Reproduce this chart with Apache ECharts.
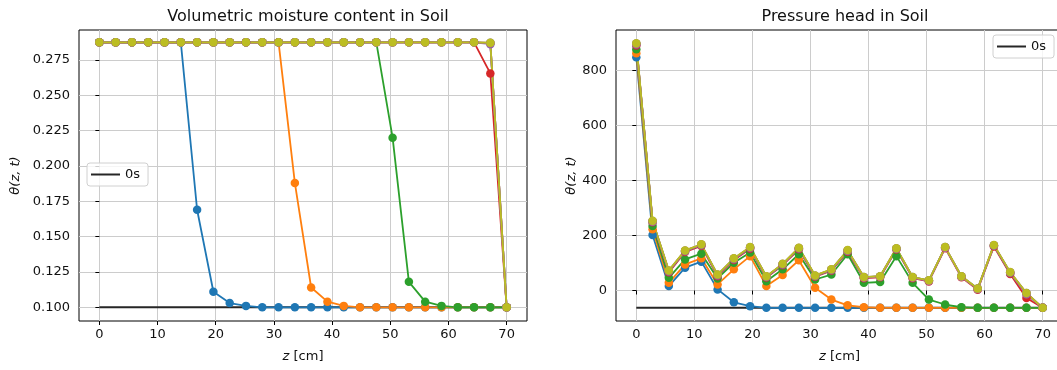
<!DOCTYPE html>
<html>
<head>
<meta charset="utf-8">
<script src="https://cdn.jsdelivr.net/npm/echarts@6/dist/echarts.min.js"></script>
<style>
  html, body { margin: 0; padding: 0; background: #fff; }
  #chart { width: 1057px; height: 370px; }
</style>
</head>
<body>
<div id="chart"></div>
<script>
// depth nodes (cm)
const zCm = [0, 2.8, 5.6, 8.4, 11.2, 14, 16.8, 19.6, 22.4, 25.2, 28, 30.8, 33.6, 36.4, 39.2, 42, 44.8, 47.6, 50.4, 53.2, 56, 58.8, 61.6, 64.4, 67.2, 70]

const xTicks = [0, 10, 20, 30, 40, 50, 60, 70]
const thetaTicks = [0.1, 0.125, 0.15, 0.175, 0.2, 0.225, 0.25, 0.275]
const headTicks = [0, 200, 400, 600, 800]

// volumetric moisture content, one array per time step
const theta0s = [0.1, 0.1, 0.1, 0.1, 0.1, 0.1, 0.1, 0.1, 0.1, 0.1, 0.1, 0.1, 0.1, 0.1, 0.1, 0.1, 0.1, 0.1, 0.1, 0.1, 0.1, 0.1, 0.1, 0.1, 0.1, 0.1]
const theta1 = [0.2875, 0.2875, 0.2875, 0.2875, 0.2875, 0.2875, 0.169, 0.111, 0.103, 0.101, 0.1, 0.1, 0.1, 0.1, 0.1, 0.1, 0.1, 0.1, 0.1, 0.1, 0.1, 0.1, 0.1, 0.1, 0.1, 0.1]
const theta2 = [0.2875, 0.2875, 0.2875, 0.2875, 0.2875, 0.2875, 0.2875, 0.2875, 0.2875, 0.2875, 0.2875, 0.2875, 0.188, 0.114, 0.104, 0.101, 0.1, 0.1, 0.1, 0.1, 0.1, 0.1, 0.1, 0.1, 0.1, 0.1]
const theta3 = [0.2875, 0.2875, 0.2875, 0.2875, 0.2875, 0.2875, 0.2875, 0.2875, 0.2875, 0.2875, 0.2875, 0.2875, 0.2875, 0.2875, 0.2875, 0.2875, 0.2875, 0.2875, 0.22, 0.118, 0.104, 0.101, 0.1, 0.1, 0.1, 0.1]
const theta4 = [0.2875, 0.2875, 0.2875, 0.2875, 0.2875, 0.2875, 0.2875, 0.2875, 0.2875, 0.2875, 0.2875, 0.2875, 0.2875, 0.2875, 0.2875, 0.2875, 0.2875, 0.2875, 0.2875, 0.2875, 0.2875, 0.2875, 0.2875, 0.2875, 0.2655, 0.1]
const theta5 = [0.2875, 0.2875, 0.2875, 0.2875, 0.2875, 0.2875, 0.2875, 0.2875, 0.2875, 0.2875, 0.2875, 0.2875, 0.2875, 0.2875, 0.2875, 0.2875, 0.2875, 0.2875, 0.2875, 0.2875, 0.2875, 0.2875, 0.2875, 0.2875, 0.2862, 0.1]
const theta6 = [0.2875, 0.2875, 0.2875, 0.2875, 0.2875, 0.2875, 0.2875, 0.2875, 0.2875, 0.2875, 0.2875, 0.2875, 0.2875, 0.2875, 0.2875, 0.2875, 0.2875, 0.2875, 0.2875, 0.2875, 0.2875, 0.2875, 0.2875, 0.2875, 0.2868, 0.1]
const theta7 = [0.2875, 0.2875, 0.2875, 0.2875, 0.2875, 0.2875, 0.2875, 0.2875, 0.2875, 0.2875, 0.2875, 0.2875, 0.2875, 0.2875, 0.2875, 0.2875, 0.2875, 0.2875, 0.2875, 0.2875, 0.2875, 0.2875, 0.2875, 0.2875, 0.2870, 0.1]
const theta8 = [0.2875, 0.2875, 0.2875, 0.2875, 0.2875, 0.2875, 0.2875, 0.2875, 0.2875, 0.2875, 0.2875, 0.2875, 0.2875, 0.2875, 0.2875, 0.2875, 0.2875, 0.2875, 0.2875, 0.2875, 0.2875, 0.2875, 0.2875, 0.2875, 0.2871, 0.1]
const theta9 = [0.2875, 0.2875, 0.2875, 0.2875, 0.2875, 0.2875, 0.2875, 0.2875, 0.2875, 0.2875, 0.2875, 0.2875, 0.2875, 0.2875, 0.2875, 0.2875, 0.2875, 0.2875, 0.2875, 0.2875, 0.2875, 0.2875, 0.2875, 0.2875, 0.2872, 0.1]

// pressure head, one array per time step
const head0s = [-63, -63, -63, -63, -63, -63, -63, -63, -63, -63, -63, -63, -63, -63, -63, -63, -63, -63, -63, -63, -63, -63, -63, -63, -63, -63]
const head1 = [849, 202, 16, 83, 105, 4, -43, -57, -63, -63, -63, -63, -63, -63, -63, -63, -63, -63, -63, -63, -63, -63, -63, -63, -63, -63]
const head2 = [863, 223, 28, 95, 117, 22, 77, 125, 16, 56, 110, 10, -33, -54, -61, -63, -63, -63, -63, -63, -63, -63, -63, -63, -63, -63]
const head3 = [878, 235, 46, 113, 134, 44, 101, 138, 34, 77, 132, 40, 58, 132, 28, 31, 125, 28, -33, -51, -61, -63, -63, -63, -63, -63]
const head4 = [892, 248, 66, 140, 162, 52, 111, 152, 47, 92, 150, 50, 72, 141, 45, 48, 149, 45, 33, 154, 48, 3, 160, 60, -27, -63]
const head5 = [895, 250, 69, 143, 165, 55, 114, 155, 49, 94, 153, 52, 74, 144, 47, 50, 151, 47, 35, 156, 50, 5, 163, 64, -14, -63]
const head6 = [897, 251, 71, 144, 166, 56, 115, 156, 50, 95, 154, 53, 75, 145, 48, 51, 152, 48, 36, 157, 51, 6, 164, 65, -11, -63]
const head7 = [898, 252, 72, 145, 167, 57, 116, 157, 51, 96, 155, 54, 76, 146, 48, 51, 153, 48, 36, 157, 51, 6, 165, 66, -10, -63]
const head8 = [899, 253, 72, 145, 167, 57, 116, 157, 51, 96, 155, 54, 76, 146, 49, 52, 153, 49, 37, 158, 52, 7, 165, 66, -9, -63]
const head9 = [900, 254, 73, 146, 168, 58, 117, 158, 52, 97, 156, 55, 77, 147, 49, 52, 154, 49, 37, 158, 52, 7, 166, 67, -9, -63]

const stepNames = ['t1', 't2', 't3', 't4', 't5', 't6', 't7', 't8', 't9']
const thetaSteps = [theta1, theta2, theta3, theta4, theta5, theta6, theta7, theta8, theta9]
const headSteps = [head1, head2, head3, head4, head5, head6, head7, head8, head9]

// matplotlib tab10 cycle
const COLORS = ['#1f77b4', '#ff7f0e', '#2ca02c', '#d62728', '#9467bd', '#8c564b', '#e377c2', '#7f7f7f', '#bcbd22']
const FONT = 'DejaVu Sans'
const GRID_LINE = '#cccccc'
const INIT_COLOR = '#262626'
const TEXT_COLOR = '#111'

const toPairs = values => zCm.map((z, i) => [z, values[i]])

function buildSeries (initValues, steps, idx) {
  const list = [{
    name: '0s',
    type: 'line',
    xAxisIndex: idx,
    yAxisIndex: idx,
    symbol: 'none',
    lineStyle: { color: INIT_COLOR, width: 2 },
    itemStyle: { color: INIT_COLOR },
    data: toPairs(initValues)
  }]
  steps.forEach((values, i) => {
    list.push({
      name: stepNames[i],
      type: 'line',
      xAxisIndex: idx,
      yAxisIndex: idx,
      symbol: 'circle',
      symbolSize: 8.5,
      showAllSymbol: true,
      lineStyle: { color: COLORS[i], width: 1.8 },
      itemStyle: { color: COLORS[i] },
      data: toPairs(values)
    })
  })
  return list
}

function xAxisOf (idx) {
  return {
    type: 'value',
    gridIndex: idx,
    min: -3.5,
    max: 73.5,
    name: '{i|z} [cm]',
    nameLocation: 'middle',
    nameGap: 29,
    nameTextStyle: {
      fontFamily: FONT, fontSize: 13, color: TEXT_COLOR,
      rich: { i: { fontFamily: FONT, fontSize: 13, fontStyle: 'italic', color: TEXT_COLOR } }
    },
    axisLine: { show: false },
    axisTick: { show: true, length: 4, customValues: xTicks, lineStyle: { color: '#000' } },
    axisLabel: { customValues: xTicks, margin: 7, fontFamily: FONT, fontSize: 13, color: TEXT_COLOR },
    splitLine: { show: true, lineStyle: { color: GRID_LINE, width: 1 } }
  }
}

function yAxisOf (idx, min, max, ticks, fmt, gap) {
  return {
    type: 'value',
    gridIndex: idx,
    min,
    max,
    name: 'θ(z, t)',
    nameLocation: 'middle',
    nameGap: gap,
    nameTextStyle: { fontFamily: FONT, fontSize: 13, fontStyle: 'italic', color: TEXT_COLOR },
    axisLine: { show: false },
    axisTick: { show: true, length: 4, customValues: ticks, lineStyle: { color: '#000' } },
    axisLabel: { customValues: ticks, margin: 9, fontFamily: FONT, fontSize: 13, color: TEXT_COLOR, formatter: fmt },
    splitLine: { show: true, lineStyle: { color: GRID_LINE, width: 1 } }
  }
}

function legendOf (left, top) {
  return {
    data: [{ name: '0s', icon: 'rect' }],
    left,
    top,
    orient: 'vertical',
    itemWidth: 29,
    itemHeight: 2,
    itemGap: 4,
    padding: [5, 8, 5, 4],
    borderColor: '#d0d0d0',
    borderWidth: 1,
    borderRadius: 3,
    backgroundColor: 'rgba(255,255,255,0.8)',
    textStyle: { fontFamily: FONT, fontSize: 13, color: TEXT_COLOR }
  }
}

const chart = echarts.init(document.getElementById('chart'))
chart.setOption({
  animation: false,
  backgroundColor: '#fff',
  title: [
    { text: 'Volumetric moisture content in Soil', left: 303, top: 4, textAlign: 'center', textStyle: { fontFamily: FONT, fontSize: 16, fontWeight: 'normal', color: TEXT_COLOR } },
    { text: 'Pressure head in Soil', left: 840, top: 4, textAlign: 'center', textStyle: { fontFamily: FONT, fontSize: 16, fontWeight: 'normal', color: TEXT_COLOR } }
  ],
  legend: [legendOf(87, 163), legendOf(993, 35)],
  grid: [
    { left: 79, top: 30, width: 448, height: 291, outerBoundsMode: 'none', show: true, borderColor: '#000', borderWidth: 1, backgroundColor: 'transparent' },
    { left: 616, top: 30, width: 447, height: 291, outerBoundsMode: 'none', show: true, borderColor: '#000', borderWidth: 1, backgroundColor: 'transparent' }
  ],
  xAxis: [xAxisOf(0), xAxisOf(1)],
  yAxis: [
    yAxisOf(0, 0.0903, 0.2962, thetaTicks, v => v.toFixed(3), 57),
    yAxisOf(1, -111, 948, headTicks, v => String(v), 37)
  ],
  series: [
    ...buildSeries(theta0s, thetaSteps, 0),
    ...buildSeries(head0s, headSteps, 1)
  ]
})
</script>
</body>
</html>
